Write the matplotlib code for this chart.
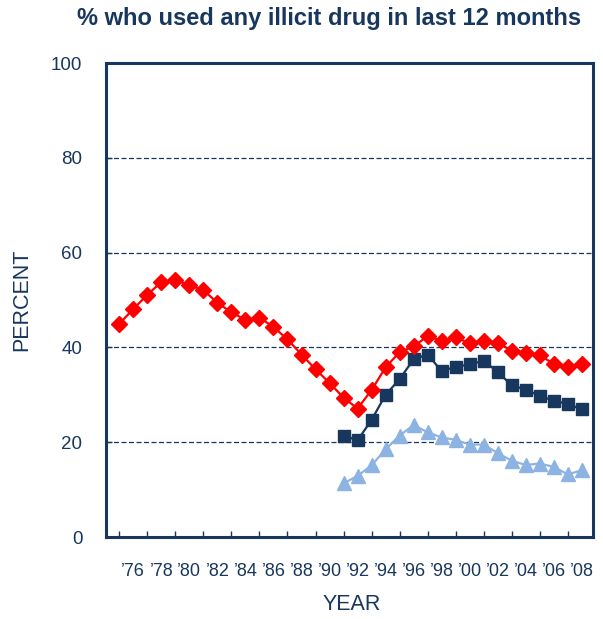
import numpy as np
import matplotlib
matplotlib.use('Agg')
import matplotlib.pyplot as plt

plt.rcParams['font.family'] = ['Liberation Sans', 'DejaVu Sans']

navy = '#17375E'

# data
years12 = list(range(1975, 2009))
grade12 = [45.0, 48.1, 51.1, 53.8, 54.2, 53.1, 52.1, 49.4, 47.4, 45.8,
           46.3, 44.3, 41.7, 38.5, 35.4, 32.5, 29.4, 27.1, 31.0, 35.8,
           39.0, 40.2, 42.4, 41.4, 42.1, 40.9, 41.4, 41.0, 39.3, 38.8,
           38.4, 36.5, 35.9, 36.6]
years_lo = list(range(1991, 2009))
grade10 = [21.4, 20.4, 24.7, 30.0, 33.3, 37.5, 38.5, 35.0, 35.9, 36.4,
           37.2, 34.8, 32.0, 31.1, 29.8, 28.7, 28.1, 26.9]
grade8 = [11.3, 12.9, 15.1, 18.5, 21.4, 23.6, 22.1, 21.0, 20.5, 19.5,
          19.5, 17.7, 16.1, 15.2, 15.5, 14.8, 13.2, 14.1]

label_years = list(range(1976, 2009, 2))
xlabels = ['\u2019%02d' % (y % 100) for y in label_years]

fig = plt.figure(figsize=(6.03, 6.19), dpi=100)
ax = fig.add_axes([106/603, 82/619, 487/603, 474/619])

ax.plot(years12, grade12, color='#FF0000', lw=1.6, marker='D', ms=8, zorder=4)
ax.plot(years_lo, grade10, color=navy, lw=1.6, marker='s', ms=8.5, zorder=3)
ax.plot(years_lo, grade8, color='#8DB3E2', lw=1.6, marker='^', ms=9.5, zorder=3)

ax.set_xlim(1974.05, 2008.8)
ax.set_ylim(0, 100)

for v in [20, 40, 60, 80]:
    ax.axhline(v, color=navy, lw=0.9, ls=(0, (4, 2)), zorder=1)

ax.set_yticks([0, 20, 40, 60, 80, 100])
ax.tick_params(axis='y', direction='in', length=4, width=1, color=navy,
               pad=17, labelsize=13.5, labelcolor=navy)

ax.set_xticks(label_years)
ax.set_xticklabels(xlabels)
ax.set_xticks(years12, minor=True)
ax.tick_params(axis='x', which='major', length=0, pad=19, labelsize=13,
               labelcolor=navy)
ax.tick_params(axis='x', which='minor', direction='in', length=4, width=1,
               color=navy)

for s in ax.spines.values():
    s.set_color(navy)
    s.set_linewidth(2.2)

fig.text(329/603, 1 - 18/619, '% who used any illicit drug in last 12 months',
         ha='center', va='center', fontsize=17, fontweight='bold', color=navy)
fig.text(22/603, 1 - 300/619, 'PERCENT', rotation=90, ha='center', va='center',
         fontsize=15.5, color=navy)
fig.text(352/603, 1 - 605/619, 'YEAR', ha='center', va='center',
         fontsize=15.5, color=navy)

fig.savefig('out.png', dpi=100)
